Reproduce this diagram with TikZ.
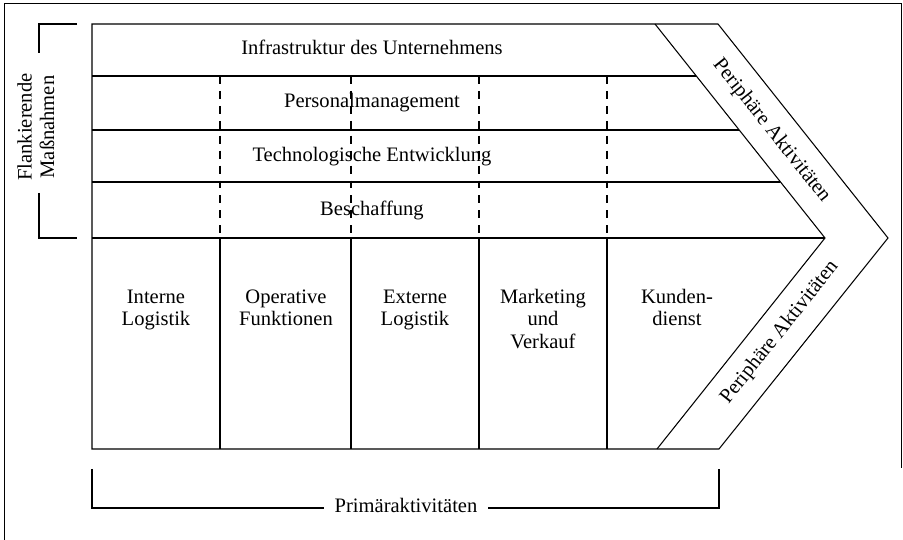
\documentclass[tikz,border=0pt]{standalone}
\usepackage{fontspec}
\setmainfont{Liberation Serif}
\usetikzlibrary{positioning}

\tikzset{
  lbl/.style={align=center, font=\fontsize{11.7}{12.8}\selectfont, inner sep=0pt,
              execute at begin node=\strut, execute at end node=\strut},
  sep/.style={dash pattern=on 4.5pt off 4pt},
}

\begin{document}
\begin{tikzpicture}[x=0.02cm, y=-0.02cm, line width=0.6pt]
    \useasboundingbox (0,0) rectangle (903,540);
    % frame, open at the bottom
    \draw[line width=0.4pt] (4,540) -- (4,3) -- (901,3) -- (901,468);

    % chain with arrow head
    \draw (92,24) -- (718,24) -- (888,238) -- (719,449) -- (92,449) -- cycle;
    \draw (655,24) -- (825,238) -- (657,449);
    \foreach \y/\xe in {76/696, 130/739, 182/780, 238/825}
        \draw (92,\y) -- (\xe,\y);
    \foreach \x in {220,351,479,607} {
        \draw (\x,238) -- (\x,449);
        \draw[sep] (\x,76) -- (\x,238);
    }

    % support activities
    \node[lbl] (infra) at (372,50)  {Infrastruktur des Unternehmens};
    \node[lbl] (pers)  at (372,103) {Personalmanagement};
    \node[lbl] (tech)  at (372,157) {Technologische Entwicklung};
    \node[lbl] (besch) at (372,211) {Beschaffung};

    % primary activities
    \node[lbl] (inlog) at (156,311) {Interne\\ Logistik};
    \node[lbl] (opfk)  at (286,311) {Operative\\ Funktionen};
    \node[lbl] (exlog) at (415,311) {Externe\\ Logistik};
    \node[lbl] (mkt)   at (543,322) {Marketing\\ und\\ Verkauf};
    \node[lbl] (kd)    at (677,311) {Kunden-\\ dienst};

    % margin
    \node[lbl, rotate=-51.5] (periO) at (771,131) {Periphäre Aktivitäten};
    \node[lbl, rotate=51.5]  (periU) at (780,333) {Periphäre Aktivitäten};

    % brackets
    \node[lbl, rotate=90] (flank) at (39,127) {Flankierende\\ Maßnahmen};
    \draw (77,24) -- (39,24) -- (39,53);
    \draw (39,193) -- (39,238) -- (77,238);
    \node[lbl, inner xsep=6pt] (prim) at (406,508) {Primäraktivitäten};
    \draw (92,469) |- (prim.west);
    \draw (prim.east) -| (719,469);
\end{tikzpicture}
\end{document}
